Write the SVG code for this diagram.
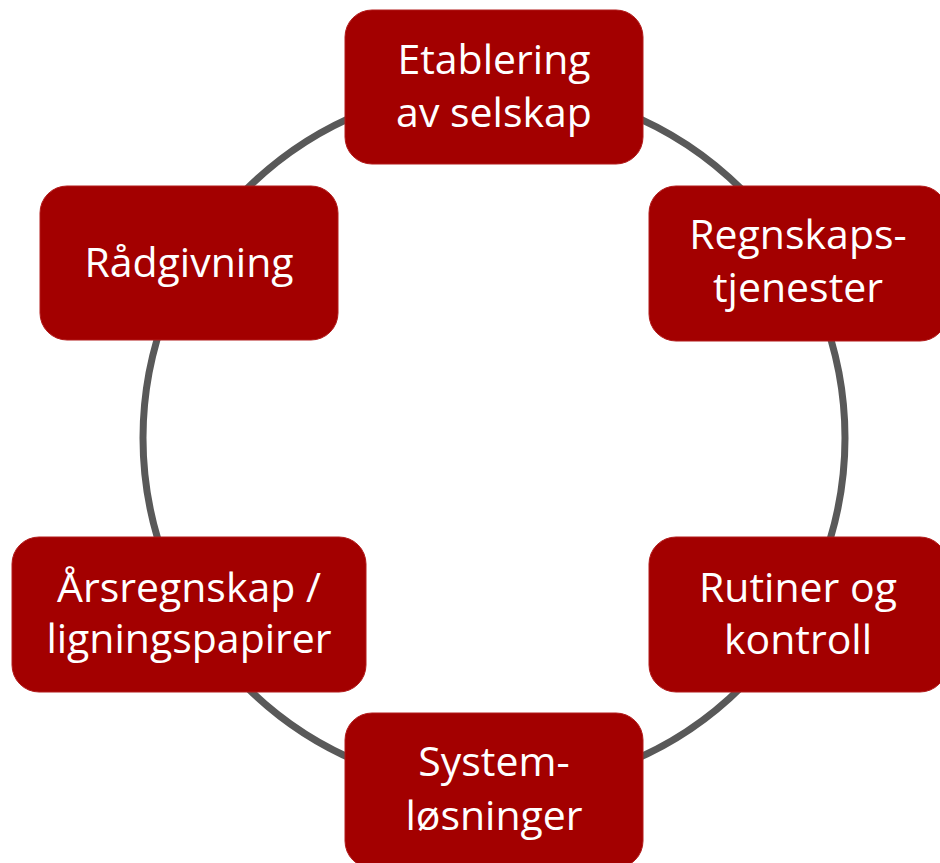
<svg xmlns="http://www.w3.org/2000/svg" width="940" height="863" viewBox="0 0 940 863">
<style>
.box{fill:#A30000;stroke:#B21A1A;stroke-width:1}
.t{font-family:"Open Sans","Noto Sans","Liberation Sans",sans-serif;font-size:41px;fill:#FFFFFF;text-anchor:middle}
.ring{fill:none;stroke:#595959;stroke-width:7}
</style>
<rect width="940" height="863" fill="#FFFFFF"/>
<g id="connectors">
<circle class="ring" cx="494" cy="438" r="351"/>
</g>
<g id="etablering">
<rect class="box" x="345" y="10" width="298" height="154" rx="27"/>
<text class="t" x="494" y="74">Etablering</text>
<text class="t" x="494" y="127">av selskap</text>
</g>
<g id="regnskap">
<rect class="box" x="649" y="186" width="298" height="155" rx="27"/>
<text class="t" x="798" y="249">Regnskaps-</text>
<text class="t" x="798" y="302">tjenester</text>
</g>
<g id="rutiner">
<rect class="box" x="649" y="537" width="298" height="155" rx="27"/>
<text class="t" x="798" y="602">Rutiner og</text>
<text class="t" x="798" y="654">kontroll</text>
</g>
<g id="system">
<rect class="box" x="345" y="713" width="298" height="155" rx="27"/>
<text class="t" x="494" y="776" font-size="40">System-</text>
<text class="t" x="494" y="830" font-size="40">løsninger</text>
</g>
<g id="arsregnskap">
<rect class="box" x="12" y="537" width="354" height="155" rx="27"/>
<text class="t" x="189" y="602">Årsregnskap /</text>
<text class="t" x="189" y="653">ligningspapirer</text>
</g>
<g id="radgivning">
<rect class="box" x="40" y="186" width="298" height="154" rx="27"/>
<text class="t" x="189" y="277">Rådgivning</text>
</g>
</svg>
